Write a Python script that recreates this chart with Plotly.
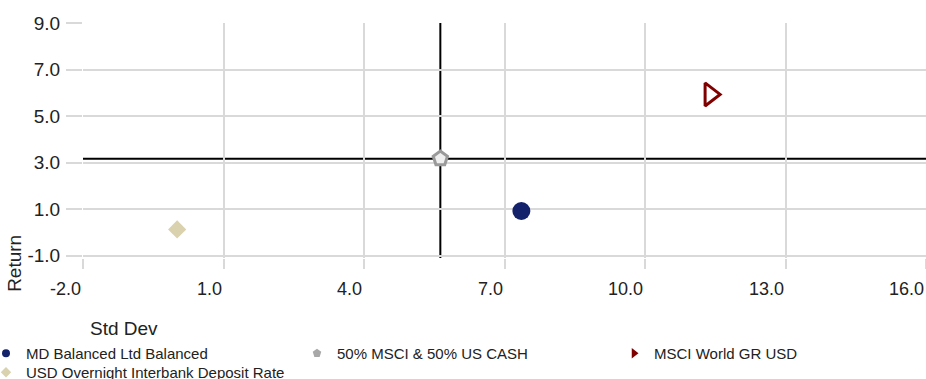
import plotly.graph_objects as go

# Risk / return points (x = standard deviation, y = return)
series_names = [
    "MD Balanced Ltd Balanced",
    "50% MSCI & 50% US CASH",
    "MSCI World GR USD",
    "USD Overnight Interbank Deposit Rate",
]
std_dev = [7.36, 5.63, 11.39, 0.01]
returns = [0.92, 3.17, 5.93, 0.13]

# Benchmark used for the crosshair lines
benchmark_index = 1

x_ticks = [-2.0, 1.0, 4.0, 7.0, 10.0, 13.0, 16.0]
y_ticks = [-1.0, 1.0, 3.0, 5.0, 7.0, 9.0]

FONT = "Liberation Sans, Arial, sans-serif"
GRID = "#D9D9D9"
TEXT = "#222222"

styles = [
    dict(symbol="circle", size=18, color="#13226B", line=dict(width=0)),
    dict(symbol="pentagon", size=15, color="#EFEFEF", line=dict(color="#9A9A9A", width=3)),
    dict(symbol="triangle-right-open", size=20, color="#800000", line=dict(color="#800000", width=3)),
    dict(symbol="diamond", size=14, color="#DAD2AE", line=dict(width=0)),
]
legend_styles = [
    dict(symbol="circle", size=8, color="#13226B"),
    dict(symbol="pentagon", size=9, color="#A8A8A8"),
    dict(symbol="triangle-right", size=9, color="#800000"),
    dict(symbol="diamond", size=8, color="#DAD2AE"),
]
legend_ids = ["legend", "legend2", "legend3", "legend4"]

fig = go.Figure()
for i, name in enumerate(series_names):
    fig.add_trace(go.Scatter(
        x=[std_dev[i]], y=[returns[i]], mode="markers", name=name,
        marker=styles[i], showlegend=False, legendgroup=name,
        cliponaxis=False,
    ))
    # legend swatch with a small marker
    fig.add_trace(go.Scatter(
        x=[None], y=[None], mode="markers", name=name,
        marker=legend_styles[i], legendgroup=name, legend=legend_ids[i],
    ))

bx, by = std_dev[benchmark_index], returns[benchmark_index]
fig.add_shape(type="line", xref="x", yref="paper", x0=bx, x1=bx, y0=0, y1=1,
              line=dict(color="#000000", width=2), layer="between")
fig.add_shape(type="line", xref="paper", yref="y", x0=0, x1=1, y0=by, y1=by,
              line=dict(color="#000000", width=2), layer="between")

# x tick labels, right-aligned to their gridlines
for v in x_ticks:
    fig.add_annotation(x=v, xref="x", y=0, yref="paper", text=f"{v:.1f}",
                       showarrow=False, xanchor="right", yanchor="middle",
                       yshift=-31, font=dict(family=FONT, size=18, color=TEXT))

fig.add_annotation(x=0.006, xref="paper", y=0, yref="paper", text="Std Dev",
                   showarrow=False, xanchor="left", yanchor="middle", yshift=-70,
                   font=dict(family=FONT, size=19, color=TEXT))
fig.add_annotation(x=-0.082, xref="paper", y=0, yref="paper", text="Return",
                   showarrow=False, xanchor="center", yanchor="middle", yshift=-5,
                   textangle=-90, font=dict(family=FONT, size=19, color=TEXT))

W, L = 926, 83
PW = W - L


def px_to_paper_x(px):
    return (px - L) / PW


legend_font = dict(family=FONT, size=15, color=TEXT)
legend_pos = [(-14, 337), (297, 337), (614, 337), (-14, 356)]
layout_legends = {}
for lid, (lx, ly) in zip(legend_ids, legend_pos):
    layout_legends[lid] = dict(
        x=px_to_paper_x(lx), y=(258 - ly) / 235, xanchor="left", yanchor="top",
        font=legend_font, bgcolor="rgba(0,0,0,0)", borderwidth=0,
        orientation="h",
    )

fig.update_layout(
    width=W, height=379,
    margin=dict(l=L, r=0, t=23, b=121, pad=0, autoexpand=False),
    paper_bgcolor="white", plot_bgcolor="white",
    font=dict(family=FONT, color=TEXT),
    xaxis=dict(range=[-2, 16], tickvals=x_ticks, showticklabels=False,
               showgrid=True, gridcolor=GRID, gridwidth=2, zeroline=False,
               showline=False, ticks="outside", ticklen=10, tickcolor=GRID,
               tickwidth=2),
    yaxis=dict(range=[-1.1, 9], tickvals=y_ticks,
               ticktext=[f"{v:.1f}" for v in y_ticks],
               tickfont=dict(family=FONT, size=19, color=TEXT),
               ticklabelstandoff=2,
               showgrid=True, gridcolor=GRID, gridwidth=2, zeroline=False,
               showline=False, ticks="outside", ticklen=16, tickcolor=GRID,
               tickwidth=2),
    **layout_legends,
)

fig.write_html("out.html")
